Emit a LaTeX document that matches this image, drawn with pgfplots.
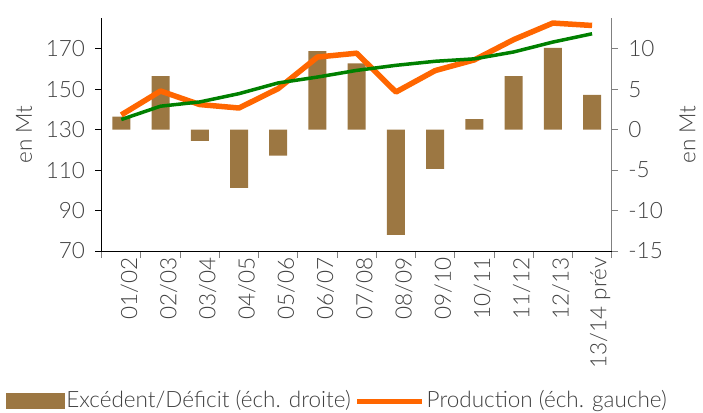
\documentclass[border=0pt]{standalone}
\usepackage{fontspec}
\setmainfont{Lato Light}
\usepackage{pgfplots}
\usepackage{pgfplotstable}
\pgfplotsset{compat=1.18}
\usetikzlibrary{calc}
\definecolor{barbrown}{HTML}{9C7742}
\definecolor{prodorange}{HTML}{FF6600}
\definecolor{consgreen}{HTML}{008000}
\definecolor{txtgray}{HTML}{404040}
\definecolor{axgray}{HTML}{808080}

% x: campaign index, bal: surplus/deficit (right), prod & cons (left)
\pgfplotstableread{
x  bal    prod   cons
0  1.6    137.3  135.0
1  6.6    149.1  141.6
2  -1.4   142.4  143.7
3  -7.2   140.7  147.8
4  -3.2   150.3  153.1
5  9.7    165.9  156.0
6  8.2    167.8  159.3
7  -13.0  148.6  161.8
8  -4.85  159.2  163.8
9  1.3    164.5  165.0
10 6.6    174.5  168.4
11 10.1   182.7  173.3
12 4.3    181.5  177.4
}\data

\pgfplotsset{
  base/.style={
    scale only axis, width=510pt, height=233pt,
    xmin=-0.5, xmax=12.5,
    tick align=outside,
    major tick length=6.5pt,
    every tick label/.append style={text=txtgray},
    label style={text=txtgray},
    /pgf/number format/assume math mode=true,
  }
}

\begin{document}
{\fontsize{22.5}{26}\selectfont
\begin{tikzpicture}
% right scale: bars
\begin{axis}[base, name=r,
  axis x line=none, axis y line*=right,
  ymin=-15, ymax=13.8, ytick={-15,-10,...,10},
  y axis line style={draw=axgray, line width=1pt, -},
  ytick style={draw=axgray, line width=1pt},
  yticklabel style={inner sep=0pt, xshift=10pt},
  ylabel={en Mt},
  ylabel shift=9pt,
]
\addplot[ybar, bar width=18pt, fill=barbrown, draw=none] table[x=x, y=bal] {\data};
\end{axis}

% left scale: lines
\begin{axis}[base, name=l,
  axis x line*=bottom, axis y line*=left,
  ymin=70, ymax=185.2, ytick={70,90,...,170},
  axis line style={draw=black, line width=1pt, -},
  ytick style={draw=black, line width=1pt},
  yticklabel style={inner sep=0pt, xshift=-10pt},
  ylabel={en Mt},
  ylabel shift=6pt,
  xtick={0,...,12},
  xticklabels={01/02,02/03,03/04,04/05,05/06,06/07,07/08,08/09,09/10,10/11,11/12,12/13,13/14 prév},
  major x tick style={draw=none},
  minor xtick={-0.5,0.5,...,12.5},
  minor tick length=7pt,
  minor x tick style={draw=axgray, line width=1pt},
  xticklabel style={rotate=90, anchor=east, inner sep=0pt, yshift=-8pt},
  legend columns=2,
  legend style={at={(axis description cs:0,0)}, anchor=west,
    xshift=-96pt, yshift=-150pt, draw=none, fill=none, inner sep=0pt,
    text=txtgray, /tikz/every even column/.append style={column sep=2pt}},
]
\addlegendimage{legend image code/.code={\fill[barbrown] (0pt,-7.5pt) rectangle (58pt,7.5pt);}}
\addlegendentry{Excédent/Déficit (éch. droite)}
\addplot[prodorange, line width=5.5pt, line join=round,
  legend image code/.code={\draw[prodorange, line width=5pt] (0pt,0pt) -- (65pt,0pt);}]
  table[x=x, y=prod] {\data};
\addlegendentry{Production (éch. gauche)}
\addplot[consgreen, line width=3.5pt, line join=round, forget plot]
  table[x=x, y=cons] {\data};
\end{axis}

\pgfresetboundingbox
\path[use as bounding box] ($(l.south west)+(-101.7pt,-161pt)$) rectangle ($(l.north east)+(91.3pt,18pt)$);
\end{tikzpicture}}
\end{document}
